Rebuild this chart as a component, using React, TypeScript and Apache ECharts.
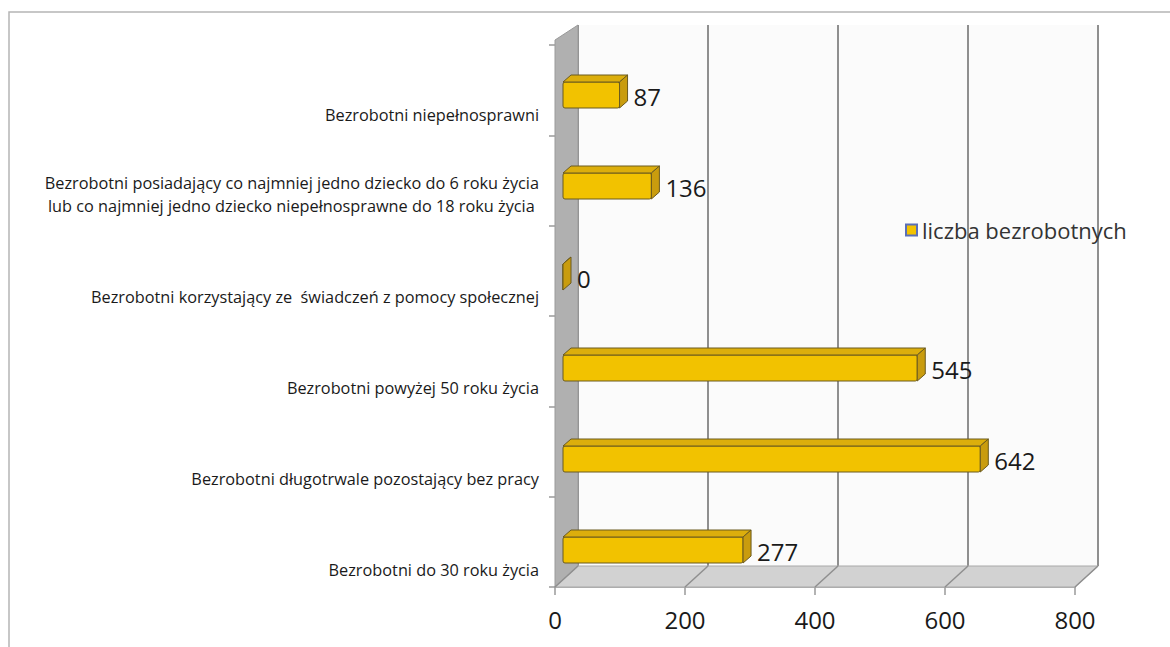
import React, { useEffect, useRef } from "react";
import * as echarts from "echarts";

// ---- data ----
const CATEGORIES = [
  "Bezrobotni niepełnosprawni",
  "Bezrobotni posiadający co najmniej jedno dziecko do 6 roku życia\nlub co najmniej jedno dziecko niepełnosprawne do 18 roku życia ",
  "Bezrobotni korzystający ze  świadczeń z pomocy społecznej",
  "Bezrobotni powyżej 50 roku życia",
  "Bezrobotni długotrwale pozostający bez pracy",
  "Bezrobotni do 30 roku życia",
];
const VALUES = [87, 136, 0, 545, 642, 277];
const SERIES_NAME = "liczba bezrobotnych";
const X_MIN = 0;
const X_MAX = 800;
const X_INTERVAL = 200;
const X_TICKS = [0, 200, 400, 600, 800];

// ---- layout ----
const W = 1170;
const H = 647;
const FONT = "'Open Sans', sans-serif";
const PLOT_W = 520;
// front (floor edge) axis
const FRONT_LEFT = 555;
const FRONT_TOP = 45;
const FRONT_BOTTOM = 587;
// depth offset of the back wall
const DX = 23;
const DY = -21;
const BACK_TOP = 25;
// bars grid
const BAR_LEFT = 563;
const BAR_TOP = 49.5;
const BAR_H = 546;
// labels grid
const LAB_TOP = 81;

const BAR_FACE = 26;
const BAR_DX = 8;
const BAR_DY = -7;

export default function App() {
  const ref = useRef<HTMLDivElement>(null);
  useEffect(() => {
    document.body.style.margin = "0";
    const chart = echarts.init(ref.current!, null, { renderer: "svg" });
    const backLeft = FRONT_LEFT + DX;
    const backBottom = FRONT_BOTTOM + DY;
    const xAxisBase = {
      type: "value" as const,
      min: X_MIN,
      max: X_MAX,
      interval: X_INTERVAL,
    };
    const catAxisBase = {
      type: "category" as const,
      data: CATEGORIES,
      inverse: true,
    };
    const option: any = {
      animation: false,
      backgroundColor: "#ffffff",
      legend: {
        show: true,
        left: 900,
        top: 214,
        icon: "rect",
        itemWidth: 11,
        itemHeight: 11,
        data: [
          {
            name: SERIES_NAME,
            itemStyle: { color: "#f2c200", borderColor: "#5a6fb8", borderWidth: 2 },
          },
        ],
        textStyle: { fontSize: 22, color: "#333", fontFamily: FONT },
      },
      grid: [
        // 0: bars
        { left: BAR_LEFT, top: BAR_TOP, width: PLOT_W, height: BAR_H },
        // 1: category labels
        { left: FRONT_LEFT, top: LAB_TOP, width: PLOT_W, height: BAR_H },
        // 2: front axis (floor edge)
        { left: FRONT_LEFT, top: FRONT_TOP, width: PLOT_W, height: FRONT_BOTTOM - FRONT_TOP },
        // 3: back wall
        {
          left: backLeft,
          top: BACK_TOP,
          width: PLOT_W,
          height: backBottom - BACK_TOP,
          show: true,
          backgroundColor: "#fbfbfb",
          borderWidth: 0,
        },
      ],
      xAxis: [
        { ...xAxisBase, gridIndex: 0, show: false },
        { ...xAxisBase, gridIndex: 1, show: false },
        {
          ...xAxisBase,
          gridIndex: 2,
          axisLine: { show: true, lineStyle: { color: "#9a9a9a", width: 1.5 } },
          axisTick: { show: true, length: 8, lineStyle: { color: "#9a9a9a", width: 1.5 } },
          splitLine: { show: false },
          axisLabel: { fontSize: 24, color: "#1a1a1a", fontFamily: FONT, margin: 20 },
        },
        {
          ...xAxisBase,
          gridIndex: 3,
          axisLine: { show: false },
          axisTick: { show: false },
          axisLabel: { show: false },
          splitLine: { show: true, lineStyle: { color: "#8f8f8f", width: 2 } },
        },
      ],
      yAxis: [
        { ...catAxisBase, gridIndex: 0, show: false },
        {
          ...catAxisBase,
          gridIndex: 1,
          axisLine: { show: false },
          axisTick: { show: false },
          axisLabel: {
            fontSize: 16.3,
            color: "#1a1a1a",
            fontFamily: FONT,
            align: "right",
            verticalAlign: "bottom",
            lineHeight: 23,
            margin: 16,
          },
        },
        {
          ...catAxisBase,
          gridIndex: 2,
          axisLine: { show: false },
          axisTick: { show: true, length: 6, lineStyle: { color: "#9a9a9a", width: 1.5 } },
          axisLabel: { show: false },
        },
        { ...catAxisBase, gridIndex: 3, show: false },
      ],
      graphic: [
        // outer frame
        {
          type: "polyline",
          z: 0,
          shape: { points: [[9, H], [9, 12], [W, 12]] },
          style: { stroke: "#b5b5b5", lineWidth: 1.5, fill: null },
          silent: true,
        },
        // left wall
        {
          type: "polygon",
          z: 1,
          shape: {
            points: [
              [FRONT_LEFT, FRONT_TOP - 5],
              [backLeft, BACK_TOP],
              [backLeft, backBottom],
              [FRONT_LEFT, FRONT_BOTTOM],
            ],
          },
          style: { fill: "#b0b0b0", stroke: "#9a9a9a", lineWidth: 1 },
          silent: true,
        },
        // floor
        {
          type: "polygon",
          z: 1,
          shape: {
            points: [
              [FRONT_LEFT, FRONT_BOTTOM],
              [backLeft, backBottom],
              [backLeft + PLOT_W, backBottom],
              [FRONT_LEFT + PLOT_W, FRONT_BOTTOM],
            ],
          },
          style: { fill: "#d2d2d2", stroke: "#a8a8a8", lineWidth: 1 },
          silent: true,
        },
      ],
      series: [
        // floor diagonals from ticks
        {
          type: "custom",
          name: "floor",
          xAxisIndex: 2,
          yAxisIndex: 2,
          silent: true,
          z: 3,
          data: X_TICKS.map((v) => [v, 0]),
          renderItem: (params: any, api: any) => {
            const cs = params.coordSys;
            const x = api.coord([api.value(0), 0])[0];
            const yb = cs.y + cs.height;
            return {
              type: "line",
              shape: { x1: x, y1: yb, x2: x + DX, y2: yb + DY },
              style: { stroke: "#8f8f8f", lineWidth: 1.5 },
            };
          },
        },
        {
          type: "custom",
          name: SERIES_NAME,
          xAxisIndex: 0,
          yAxisIndex: 0,
          z: 5,
          itemStyle: { color: "#f2c200" },
          data: VALUES.map((v, i) => [v, i]),
          renderItem: (params: any, api: any) => {
            const v = api.value(0);
            const c = api.value(1);
            const p0 = api.coord([0, c]);
            const p1 = api.coord([v, c]);
            const x0 = p0[0];
            const x1 = p1[0];
            const yt = p1[1] - BAR_FACE / 2;
            const yb = p1[1] + BAR_FACE / 2;
            const edge = "#6b5a1e";
            return {
              type: "group",
              children: [
                {
                  type: "rect",
                  shape: { x: x0, y: yt, width: x1 - x0, height: BAR_FACE, r: 2 },
                  style: { fill: "#f2c200", stroke: edge, lineWidth: 1 },
                },
                {
                  type: "polygon",
                  shape: {
                    points: [
                      [x0, yt],
                      [x1, yt],
                      [x1 + BAR_DX, yt + BAR_DY],
                      [x0 + BAR_DX, yt + BAR_DY],
                    ],
                  },
                  style: { fill: "#dcae0c", stroke: edge, lineWidth: 1 },
                },
                {
                  type: "polygon",
                  shape: {
                    points: [
                      [x1, yt],
                      [x1 + BAR_DX, yt + BAR_DY],
                      [x1 + BAR_DX, yb + BAR_DY],
                      [x1, yb],
                    ],
                  },
                  style: { fill: "#c99c0e", stroke: edge, lineWidth: 1 },
                },
                {
                  type: "text",
                  style: {
                    text: String(v),
                    x: x1 + BAR_DX + 6,
                    y: p1[1] + 1,
                    verticalAlign: "middle",
                    align: "left",
                    fontSize: 24,
                    fontFamily: FONT,
                    fill: "#1a1a1a",
                  },
                },
              ],
            };
          },
        },
      ],
    };
    chart.setOption(option);
    return () => chart.dispose();
  }, []);
  return <div ref={ref} style={{ width: W, height: H }} />;
}
